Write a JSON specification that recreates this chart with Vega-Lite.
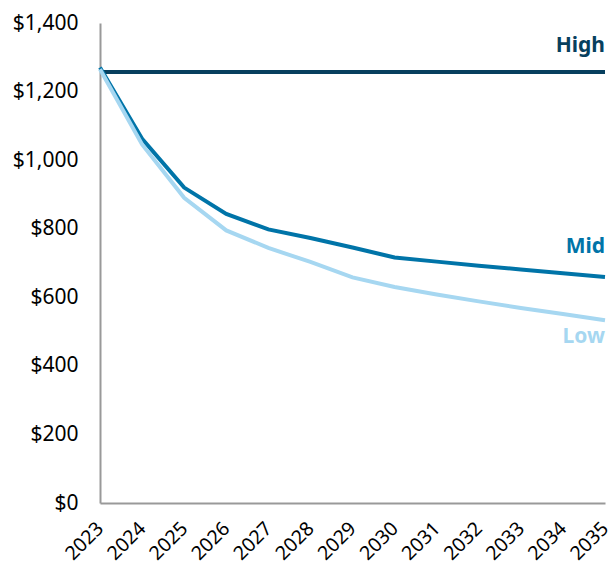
{
  "$schema": "https://vega.github.io/schema/vega-lite/v6.json",
  "width": 505,
  "height": 480,
  "autosize": {"type": "none"},
  "padding": {"left": 100, "top": 23, "right": 3, "bottom": 68},
  "background": "white",
  "config": {
    "view": {"stroke": null},
    "font": "Noto Sans"
  },
  "data": {
    "values": [
      {"year": 2023, "scenario": "High", "value": 1257},
      {"year": 2024, "scenario": "High", "value": 1257},
      {"year": 2025, "scenario": "High", "value": 1257},
      {"year": 2026, "scenario": "High", "value": 1257},
      {"year": 2027, "scenario": "High", "value": 1257},
      {"year": 2028, "scenario": "High", "value": 1257},
      {"year": 2029, "scenario": "High", "value": 1257},
      {"year": 2030, "scenario": "High", "value": 1257},
      {"year": 2031, "scenario": "High", "value": 1257},
      {"year": 2032, "scenario": "High", "value": 1257},
      {"year": 2033, "scenario": "High", "value": 1257},
      {"year": 2034, "scenario": "High", "value": 1257},
      {"year": 2035, "scenario": "High", "value": 1257},
      {"year": 2023, "scenario": "Mid", "value": 1270},
      {"year": 2024, "scenario": "Mid", "value": 1062},
      {"year": 2025, "scenario": "Mid", "value": 920},
      {"year": 2026, "scenario": "Mid", "value": 843},
      {"year": 2027, "scenario": "Mid", "value": 798},
      {"year": 2028, "scenario": "Mid", "value": 773},
      {"year": 2029, "scenario": "Mid", "value": 745},
      {"year": 2030, "scenario": "Mid", "value": 716},
      {"year": 2031, "scenario": "Mid", "value": 704},
      {"year": 2032, "scenario": "Mid", "value": 692},
      {"year": 2033, "scenario": "Mid", "value": 681},
      {"year": 2034, "scenario": "Mid", "value": 670},
      {"year": 2035, "scenario": "Mid", "value": 659},
      {"year": 2023, "scenario": "Low", "value": 1265},
      {"year": 2024, "scenario": "Low", "value": 1046},
      {"year": 2025, "scenario": "Low", "value": 890},
      {"year": 2026, "scenario": "Low", "value": 795},
      {"year": 2027, "scenario": "Low", "value": 744},
      {"year": 2028, "scenario": "Low", "value": 703},
      {"year": 2029, "scenario": "Low", "value": 658},
      {"year": 2030, "scenario": "Low", "value": 630},
      {"year": 2031, "scenario": "Low", "value": 608},
      {"year": 2032, "scenario": "Low", "value": 588},
      {"year": 2033, "scenario": "Low", "value": 569},
      {"year": 2034, "scenario": "Low", "value": 551},
      {"year": 2035, "scenario": "Low", "value": 533}
    ]
  },
  "encoding": {
    "x": {
      "field": "year",
      "type": "ordinal",
      "scale": {"type": "point", "padding": 0},
      "axis": {
        "title": null,
        "labelAngle": -45,
        "labelAlign": "right",
        "labelBaseline": "middle",
        "labelFontSize": 19.5,
        "labelColor": "#000000",
        "labelPadding": 22,
        "labelOverlap": false,
        "ticks": false,
        "domainColor": "#999999",
        "domainWidth": 2,
        "grid": false
      }
    },
    "y": {
      "field": "value",
      "type": "quantitative",
      "scale": {"domain": [0, 1400], "nice": false},
      "axis": {
        "title": null,
        "values": [0, 200, 400, 600, 800, 1000, 1200, 1400],
        "format": "$,.0f",
        "labelFontSize": 21,
        "labelColor": "#000000",
        "labelPadding": 22,
        "ticks": false,
        "domainColor": "#999999",
        "domainWidth": 2,
        "grid": false
      }
    },
    "color": {
      "field": "scenario",
      "type": "nominal",
      "scale": {"domain": ["Low", "Mid", "High"], "range": ["#a6d7f1", "#0074a8", "#073f5e"]},
      "legend": null
    }
  },
  "layer": [
    {"mark": {"type": "line", "strokeWidth": 4}},
    {
      "transform": [{"filter": "datum.year == 2035 && datum.scenario == 'High'"}],
      "mark": {"type": "text", "align": "right", "baseline": "middle", "fontSize": 21, "fontWeight": "bold", "dy": -26, "dx": 0},
      "encoding": {"text": {"field": "scenario"}}
    },
    {
      "transform": [{"filter": "datum.year == 2035 && datum.scenario == 'Mid'"}],
      "mark": {"type": "text", "align": "right", "baseline": "middle", "fontSize": 21, "fontWeight": "bold", "dy": -30, "dx": 0},
      "encoding": {"text": {"field": "scenario"}}
    },
    {
      "transform": [{"filter": "datum.year == 2035 && datum.scenario == 'Low'"}],
      "mark": {"type": "text", "align": "right", "baseline": "middle", "fontSize": 21, "fontWeight": "bold", "dy": 17, "dx": 0},
      "encoding": {"text": {"field": "scenario"}}
    }
  ]
}
